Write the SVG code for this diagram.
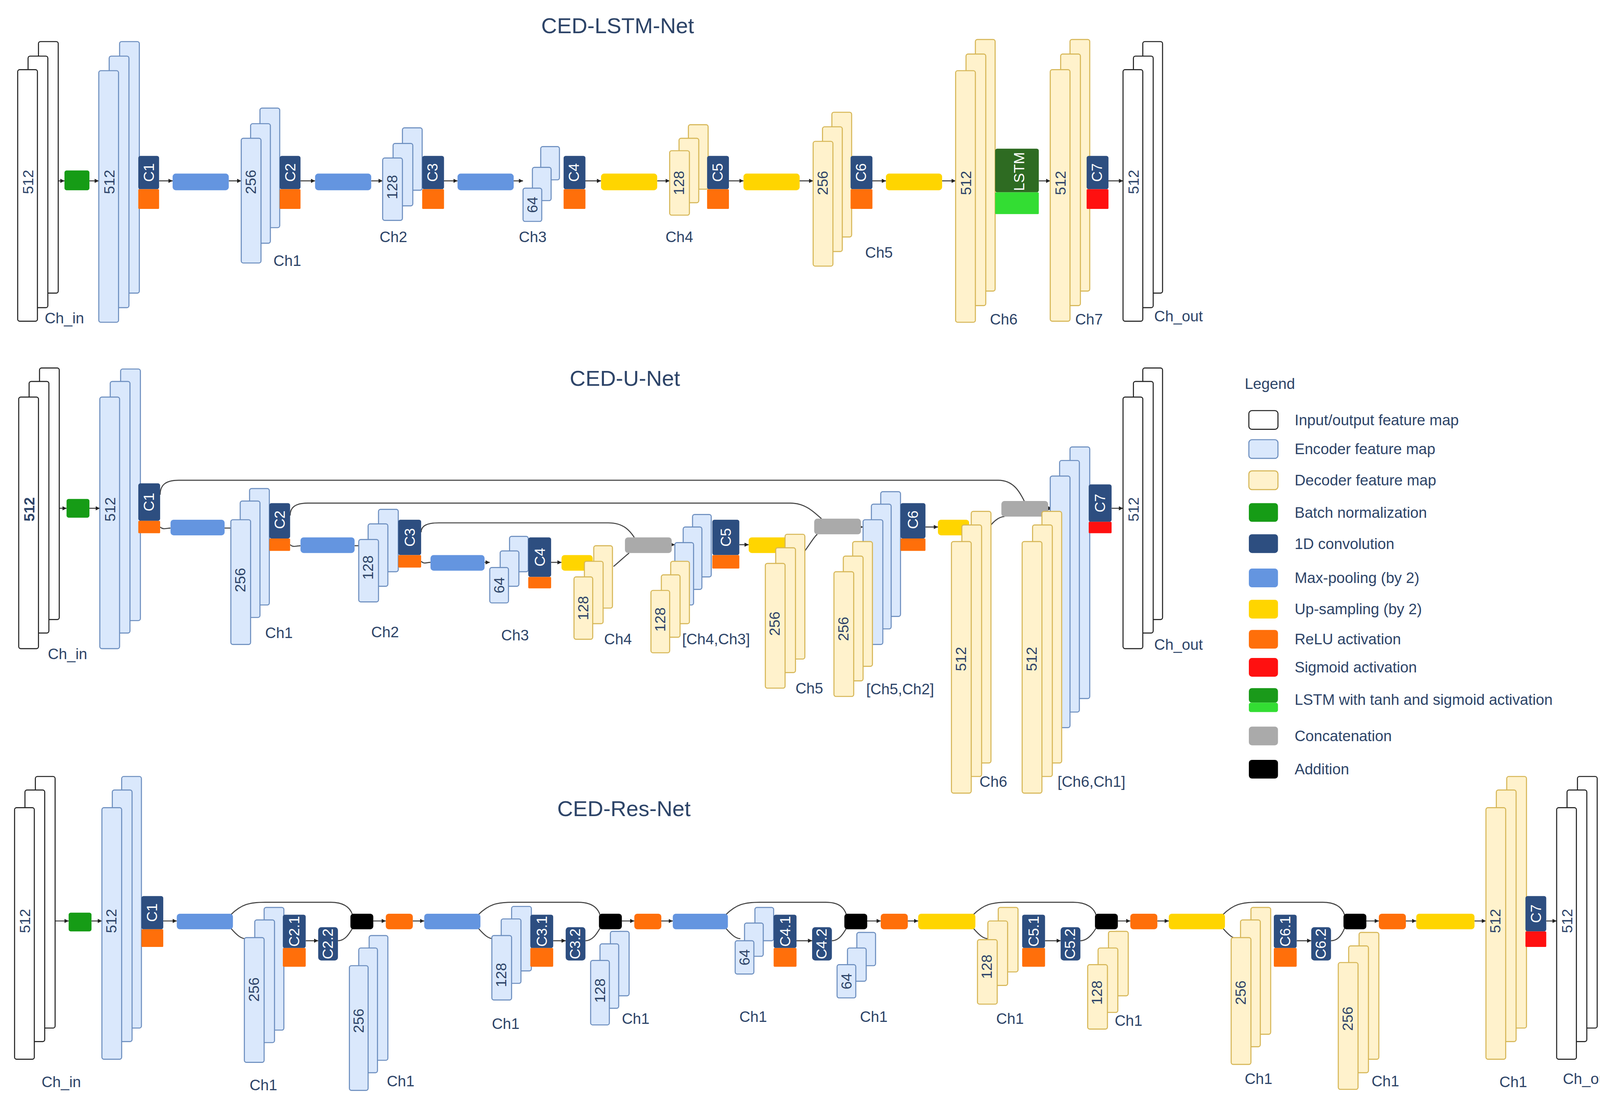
<svg xmlns="http://www.w3.org/2000/svg" width="4174" height="2817" viewBox="0 0 4174 2817">
<defs>
<style>
.io{fill:#fff;stroke:#222;stroke-width:1}
.enc{fill:#dae8fc;stroke:#6c8ebf;stroke-width:1}
.dec{fill:#fff2cc;stroke:#d6b656;stroke-width:1}
.cv{fill:#2d4e80}
.re{fill:#ff6f0a}
.sg{fill:#ff1010}
.mp{fill:#6495e0}
.up{fill:#ffd500}
.bn{fill:#169c16}
.cc{fill:#aaaaaa}
.ad{fill:#000}
.ln{fill:none;stroke:#444;stroke-width:1}
.t{font-family:"Liberation Sans",Arial,sans-serif;font-size:14.5px;fill:#2d4468}
.n{font-family:"Liberation Sans",Arial,sans-serif;font-size:14px;fill:#2d4468;text-anchor:middle;dominant-baseline:central}
.w{font-family:"Liberation Sans",Arial,sans-serif;font-size:14px;fill:#fff;text-anchor:middle;dominant-baseline:central}
.ti{font-family:"Liberation Sans",Arial,sans-serif;font-size:21px;fill:#2d4468;text-anchor:middle}
.lg{font-family:"Liberation Sans",Arial,sans-serif;font-size:14.5px;fill:#2d4468}
</style>
<marker id="a" viewBox="0 0 6 6" refX="6" refY="3" markerWidth="4" markerHeight="4" orient="auto"><path d="M0,0L6,3L0,6z" fill="#222"/></marker>
</defs>
<rect width="4174" height="2817" fill="#fff"/>
<g transform="scale(2.662)">
<!-- ===== LSTM ===== -->
<text class="ti" x="594" y="32">CED-LSTM-Net</text>
<g id="connectors-lstm">
<g class="ln" marker-end="url(#a)">
<path d="M56,174H62"/><path d="M86,174H95"/><path d="M153,174H166"/><path d="M220,174H232"/><path d="M289,174H303"/><path d="M357,174H368"/><path d="M426,174H440"/><path d="M494,174H503"/><path d="M562,174H578"/><path d="M632,174H644"/><path d="M700,174H715"/><path d="M769,174H782"/><path d="M838,174H852"/><path d="M906,174H919"/><path d="M999,174H1010"/><path d="M1065,174H1080"/>
</g></g>
<g id="l-chin"><rect class="io" x="37" y="40" width="19" height="242" rx="2"/><rect class="io" x="27" y="54" width="19" height="242" rx="2"/><rect class="io" x="17" y="67" width="19" height="242" rx="2"/><text class="n" transform="translate(27,175) rotate(-90)">512</text><text class="t" x="43" y="311">Ch_in</text></g>
<g id="l-bn"><rect class="bn" x="62" y="164" width="24" height="19" rx="2"/></g>
<g id="l-enc"><rect class="enc" x="115" y="40" width="19" height="242" rx="2"/><rect class="enc" x="105" y="54" width="19" height="242" rx="2"/><rect class="enc" x="95" y="68" width="19" height="242" rx="2"/><text class="n" transform="translate(105,175) rotate(-90)">512</text></g>
<g id="l-c1"><rect class="cv" x="133" y="150" width="20" height="32" rx="2"/><rect class="re" x="133" y="182" width="20" height="19" rx="1"/><text class="w" transform="translate(143,166) rotate(-90)">C1</text></g>
<rect id="l-mp1" class="mp" x="166" y="167" width="54" height="16" rx="3"/>
<g id="l-ch1"><rect class="enc" x="250" y="104" width="19" height="115" rx="2"/><rect class="enc" x="241" y="119" width="19" height="115" rx="2"/><rect class="enc" x="232" y="133" width="19" height="120" rx="2"/><text class="n" transform="translate(241,175) rotate(-90)">256</text><text class="t" x="263" y="256">Ch1</text></g>
<g id="l-c2"><rect class="cv" x="269" y="150" width="20" height="32" rx="2"/><rect class="re" x="269" y="182" width="20" height="19" rx="1"/><text class="w" transform="translate(279,166) rotate(-90)">C2</text></g>
<rect id="l-mp2" class="mp" x="303" y="167" width="54" height="16" rx="3"/>
<g id="l-ch2"><rect class="enc" x="387" y="123" width="19" height="60" rx="2"/><rect class="enc" x="378" y="138" width="19" height="60" rx="2"/><rect class="enc" x="368" y="152" width="19" height="60" rx="2"/><text class="n" transform="translate(377,180) rotate(-90)">128</text><text class="t" x="365" y="233">Ch2</text></g>
<g id="l-c3"><rect class="cv" x="406" y="150" width="21" height="32" rx="2"/><rect class="re" x="406" y="182" width="21" height="19" rx="1"/><text class="w" transform="translate(416,166) rotate(-90)">C3</text></g>
<rect id="l-mp3" class="mp" x="440" y="167" width="54" height="16" rx="3"/>
<g id="l-ch3"><rect class="enc" x="520" y="141" width="18" height="32" rx="2"/><rect class="enc" x="512" y="161" width="18" height="32" rx="2"/><rect class="enc" x="503" y="181" width="18" height="32" rx="2"/><text class="n" transform="translate(512,197) rotate(-90)">64</text><text class="t" x="499" y="233">Ch3</text></g>
<g id="l-c4"><rect class="cv" x="542" y="150" width="21" height="32" rx="2"/><rect class="re" x="542" y="182" width="21" height="19" rx="1"/><text class="w" transform="translate(552,166) rotate(-90)">C4</text></g>
<rect id="l-up1" class="up" x="578" y="167" width="54" height="16" rx="3"/>
<g id="l-ch4"><rect class="dec" x="662" y="120" width="19" height="62" rx="2"/><rect class="dec" x="653" y="133" width="19" height="62" rx="2"/><rect class="dec" x="644" y="145" width="19" height="62" rx="2"/><text class="n" transform="translate(653,176) rotate(-90)">128</text><text class="t" x="640" y="233">Ch4</text></g>
<g id="l-c5"><rect class="cv" x="680" y="150" width="21" height="32" rx="2"/><rect class="re" x="680" y="182" width="21" height="19" rx="1"/><text class="w" transform="translate(690,166) rotate(-90)">C5</text></g>
<rect id="l-up2" class="up" x="715" y="167" width="54" height="16" rx="3"/>
<g id="l-ch5"><rect class="dec" x="800" y="108" width="19" height="120" rx="2"/><rect class="dec" x="791" y="122" width="19" height="120" rx="2"/><rect class="dec" x="782" y="136" width="19" height="120" rx="2"/><text class="n" transform="translate(791,176) rotate(-90)">256</text><text class="t" x="832" y="248">Ch5</text></g>
<g id="l-c6"><rect class="cv" x="818" y="150" width="21" height="32" rx="2"/><rect class="re" x="818" y="182" width="21" height="19" rx="1"/><text class="w" transform="translate(828,166) rotate(-90)">C6</text></g>
<rect id="l-up3" class="up" x="852" y="167" width="54" height="16" rx="3"/>
<g id="l-ch6"><rect class="dec" x="938" y="38" width="19" height="242" rx="2"/><rect class="dec" x="929" y="52" width="19" height="242" rx="2"/><rect class="dec" x="919" y="68" width="19" height="242" rx="2"/><text class="n" transform="translate(929,176) rotate(-90)">512</text><text class="t" x="952" y="312">Ch6</text></g>
<g id="l-lstm"><rect x="957" y="143" width="42" height="42" rx="2" fill="#2e6b22"/><rect x="957" y="185" width="42" height="21" rx="1" fill="#33dd33"/><text class="w" transform="translate(980,165) rotate(-90)">LSTM</text></g>
<g id="l-ch7"><rect class="dec" x="1029" y="38" width="19" height="242" rx="2"/><rect class="dec" x="1020" y="52" width="19" height="242" rx="2"/><rect class="dec" x="1010" y="67" width="19" height="242" rx="2"/><text class="n" transform="translate(1020,176) rotate(-90)">512</text><text class="t" x="1034" y="312">Ch7</text></g>
<g id="l-c7"><rect class="cv" x="1045" y="150" width="21" height="32" rx="2"/><rect class="sg" x="1045" y="182" width="21" height="19" rx="1"/><text class="w" transform="translate(1055,166) rotate(-90)">C7</text></g>
<g id="l-chout"><rect class="io" x="1099" y="40" width="19" height="242" rx="2"/><rect class="io" x="1090" y="54" width="19" height="242" rx="2"/><rect class="io" x="1080" y="67" width="19" height="242" rx="2"/><text class="n" transform="translate(1090,175) rotate(-90)">512</text><text class="t" x="1110" y="309">Ch_out</text></g>

<!-- ===== U-Net ===== -->
<text class="ti" x="601" y="371">CED-U-Net</text>
<g id="connectors-unet">
<g class="ln">
<path d="M154,476C154,466 160,462 172,462L960,462C975,462 981,474 985,482"/>
<path d="M279,496C279,488 284,484 296,484L760,484C775,484 783,493 790,499"/>
<path d="M405,512C405,506 410,503 422,503L585,503C600,503 606,511 610,517"/>
<path d="M154,507C157,510 160,508 164,508"/><path d="M279,524C282,527 285,525 289,525"/><path d="M405,540C408,543 410,541 414,541"/>
<path d="M216,508H222"/><path d="M341,525H345"/>
<path d="M590,545C596,540 600,536 605,532"/><path d="M774,530C780,522 783,516 786,514"/><path d="M953,505C957,500 962,497 966,497"/>
</g>
<g class="ln" marker-end="url(#a)">
<path d="M56,489H64"/><path d="M86,489H96"/><path d="M466,541H471"/><path d="M530,541H540"/><path d="M646,524H649"/><path d="M711,524H720"/><path d="M828,507H830"/><path d="M890,507H902"/><path d="M1008,489H1012"/><path d="M1069,489H1080"/>
</g></g>
<g id="u-chin"><rect class="io" x="38" y="354" width="19" height="242" rx="2"/><rect class="io" x="28" y="367" width="19" height="242" rx="2"/><rect class="io" x="18" y="382" width="19" height="242" rx="2"/><text class="n" transform="translate(28,490) rotate(-90)" font-weight="bold" fill="#111">512</text><text class="t" x="46" y="634">Ch_in</text></g>
<g id="u-bn"><rect class="bn" x="64" y="480" width="22" height="18" rx="2"/></g>
<g id="u-enc"><rect class="enc" x="116" y="355" width="19" height="242" rx="2"/><rect class="enc" x="106" y="367" width="19" height="242" rx="2"/><rect class="enc" x="96" y="382" width="19" height="242" rx="2"/><text class="n" transform="translate(106,490) rotate(-90)">512</text></g>
<g id="u-c1"><rect class="cv" x="133" y="465" width="21" height="36" rx="2"/><rect class="re" x="133" y="501" width="21" height="12" rx="1"/><text class="w" transform="translate(143,483) rotate(-90)">C1</text></g>
<rect id="u-mp1" class="mp" x="164" y="500" width="52" height="15" rx="3"/>
<g id="u-ch1"><rect class="enc" x="240" y="470" width="19" height="112" rx="2"/><rect class="enc" x="231" y="482" width="19" height="112" rx="2"/><rect class="enc" x="222" y="500" width="19" height="120" rx="2"/><text class="n" transform="translate(231,558) rotate(-90)">256</text><text class="t" x="255" y="614">Ch1</text></g>
<g id="u-c2"><rect class="cv" x="259" y="484" width="20" height="34" rx="2"/><rect class="re" x="259" y="518" width="20" height="12" rx="1"/><text class="w" transform="translate(269,500) rotate(-90)">C2</text></g>
<rect id="u-mp2" class="mp" x="289" y="517" width="52" height="15" rx="3"/>
<g id="u-ch2"><rect class="enc" x="364" y="490" width="19" height="60" rx="2"/><rect class="enc" x="354" y="504" width="19" height="60" rx="2"/><rect class="enc" x="345" y="519" width="19" height="60" rx="2"/><text class="n" transform="translate(354,546) rotate(-90)">128</text><text class="t" x="357" y="613">Ch2</text></g>
<g id="u-c3"><rect class="cv" x="383" y="500" width="22" height="34" rx="2"/><rect class="re" x="383" y="534" width="22" height="12" rx="1"/><text class="w" transform="translate(394,517) rotate(-90)">C3</text></g>
<rect id="u-mp3" class="mp" x="414" y="534" width="52" height="15" rx="3"/>
<g id="u-ch3"><rect class="enc" x="490" y="516" width="18" height="34" rx="2"/><rect class="enc" x="481" y="530" width="18" height="34" rx="2"/><rect class="enc" x="471" y="546" width="18" height="34" rx="2"/><text class="n" transform="translate(480,563) rotate(-90)">64</text><text class="t" x="482" y="616">Ch3</text></g>
<g id="u-c4"><rect class="cv" x="508" y="517" width="22" height="38" rx="2"/><rect class="re" x="508" y="555" width="22" height="11" rx="1"/><text class="w" transform="translate(519,536) rotate(-90)">C4</text></g>
<rect id="u-up1" class="up" x="540" y="534" width="30" height="15" rx="3"/>
<g id="u-ch4"><rect class="dec" x="571" y="525" width="18" height="60" rx="2"/><rect class="dec" x="562" y="540" width="18" height="60" rx="2"/><rect class="dec" x="552" y="555" width="18" height="60" rx="2"/><text class="n" transform="translate(561,585) rotate(-90)">128</text><text class="t" x="581" y="620">Ch4</text></g>
<rect id="u-cc1" class="cc" x="601" y="517" width="45" height="15" rx="3"/>
<g id="u-ch43"><rect class="enc" x="666" y="495" width="18" height="60" rx="2"/><rect class="enc" x="657" y="507" width="18" height="60" rx="2"/><rect class="enc" x="649" y="522" width="18" height="60" rx="2"/><rect class="dec" x="645" y="540" width="18" height="60" rx="2"/><rect class="dec" x="636" y="553" width="18" height="60" rx="2"/><rect class="dec" x="626" y="568" width="18" height="60" rx="2"/><text class="n" transform="translate(635,596) rotate(-90)">128</text><text class="t" x="656" y="620">[Ch4,Ch3]</text></g>
<g id="u-c5"><rect class="cv" x="685" y="500" width="26" height="34" rx="2"/><rect class="re" x="685" y="534" width="26" height="13" rx="1"/><text class="w" transform="translate(698,517) rotate(-90)">C5</text></g>
<rect id="u-up2" class="up" x="720" y="517" width="38" height="15" rx="3"/>
<g id="u-ch5"><rect class="dec" x="755" y="514" width="19" height="120" rx="2"/><rect class="dec" x="746" y="527" width="19" height="120" rx="2"/><rect class="dec" x="736" y="542" width="19" height="120" rx="2"/><text class="n" transform="translate(745,600) rotate(-90)">256</text><text class="t" x="765" y="667">Ch5</text></g>
<rect id="u-cc2" class="cc" x="783" y="499" width="45" height="15" rx="3"/>
<g id="u-ch52"><rect class="enc" x="847" y="473" width="19" height="120" rx="2"/><rect class="enc" x="838" y="485" width="19" height="120" rx="2"/><rect class="enc" x="830" y="500" width="19" height="120" rx="2"/><rect class="dec" x="820" y="521" width="19" height="120" rx="2"/><rect class="dec" x="811" y="535" width="19" height="120" rx="2"/><rect class="dec" x="802" y="550" width="19" height="120" rx="2"/><text class="n" transform="translate(811,605) rotate(-90)">256</text><text class="t" x="833" y="668">[Ch5,Ch2]</text></g>
<g id="u-c6"><rect class="cv" x="866" y="484" width="24" height="34" rx="2"/><rect class="re" x="866" y="518" width="24" height="12" rx="1"/><text class="w" transform="translate(878,500) rotate(-90)">C6</text></g>
<rect id="u-up3" class="up" x="902" y="500" width="30" height="15" rx="3"/>
<g id="u-ch6"><rect class="dec" x="934" y="492" width="19" height="242" rx="2"/><rect class="dec" x="925" y="505" width="19" height="242" rx="2"/><rect class="dec" x="915" y="521" width="19" height="242" rx="2"/><text class="n" transform="translate(924,634) rotate(-90)">512</text><text class="t" x="942" y="757">Ch6</text></g>
<rect id="u-cc3" class="cc" x="963" y="482" width="45" height="15" rx="3"/>
<g id="u-ch61"><rect class="enc" x="1029" y="430" width="19" height="242" rx="2"/><rect class="enc" x="1019" y="443" width="19" height="242" rx="2"/><rect class="enc" x="1010" y="458" width="19" height="242" rx="2"/><rect class="dec" x="1002" y="492" width="19" height="242" rx="2"/><rect class="dec" x="993" y="505" width="19" height="242" rx="2"/><rect class="dec" x="983" y="521" width="19" height="242" rx="2"/><text class="n" transform="translate(992,634) rotate(-90)">512</text><text class="t" x="1017" y="757">[Ch6,Ch1]</text></g>
<g id="u-c7"><rect class="cv" x="1047" y="466" width="22" height="36" rx="2"/><rect class="sg" x="1047" y="502" width="22" height="11" rx="1"/><text class="w" transform="translate(1058,484) rotate(-90)">C7</text></g>
<g id="u-chout"><rect class="io" x="1099" y="354" width="19" height="242" rx="2"/><rect class="io" x="1090" y="367" width="19" height="242" rx="2"/><rect class="io" x="1080" y="382" width="19" height="242" rx="2"/><text class="n" transform="translate(1090,490) rotate(-90)">512</text><text class="t" x="1110" y="625">Ch_out</text></g>

<!-- ===== Legend ===== -->
<g id="legend">
<text x="1197" y="374" class="lg" font-size="19">Legend</text>
<rect class="io" x="1201" y="395" width="28" height="18" rx="3"/><text class="lg" x="1245" y="409">Input/output feature map</text>
<rect class="enc" x="1201" y="423" width="28" height="18" rx="3"/><text class="lg" x="1245" y="437">Encoder feature map</text>
<rect class="dec" x="1201" y="453" width="28" height="18" rx="3"/><text class="lg" x="1245" y="467">Decoder feature map</text>
<rect class="bn" x="1201" y="484" width="28" height="18" rx="3"/><text class="lg" x="1245" y="498">Batch normalization</text>
<rect class="cv" x="1201" y="514" width="28" height="18" rx="3"/><text class="lg" x="1245" y="528">1D convolution</text>
<rect class="mp" x="1201" y="547" width="28" height="18" rx="3"/><text class="lg" x="1245" y="561">Max-pooling (by 2)</text>
<rect class="up" x="1201" y="577" width="28" height="18" rx="3"/><text class="lg" x="1245" y="591">Up-sampling (by 2)</text>
<rect class="re" x="1201" y="606" width="28" height="18" rx="3"/><text class="lg" x="1245" y="620">ReLU activation</text>
<rect class="sg" x="1201" y="633" width="28" height="18" rx="3"/><text class="lg" x="1245" y="647">Sigmoid activation</text>
<rect x="1201" y="662" width="28" height="14" rx="3" fill="#1a9a1a"/><rect x="1201" y="676" width="28" height="9" rx="2" fill="#33dd33"/><text class="lg" x="1245" y="678">LSTM with tanh and sigmoid activation</text>
<rect class="cc" x="1201" y="699" width="28" height="18" rx="3"/><text class="lg" x="1245" y="713">Concatenation</text>
<rect class="ad" x="1201" y="731" width="28" height="18" rx="3"/><text class="lg" x="1245" y="745">Addition</text>
</g>

<!-- ===== Res-Net ===== -->
<text class="ti" x="600" y="785">CED-Res-Net</text>
<g id="connectors-res">
<g class="ln" marker-end="url(#a)">
<path d="M53,886H66"/><path d="M88,886H98"/><path d="M157,886H170"/><path d="M359,886H371"/><path d="M397,886H408"/><path d="M598,886H610"/><path d="M636,886H647"/><path d="M834,886H847"/><path d="M873,886H883"/><path d="M1075,886H1087"/><path d="M1113,886H1124"/><path d="M1314,886H1326"/><path d="M1352,886H1362"/><path d="M1418,886H1429"/><path d="M1487,886H1497"/>
<path d="M294,905H306"/><path d="M532,905H544"/><path d="M766,905H781"/><path d="M1005,905H1020"/><path d="M1247,905H1261"/>
</g>
<g class="ln">
<path d="M222,880C232,870 240,868 255,868H318C332,868 337,874 339,880"/><path d="M222,893C228,900 232,903 236,903"/><path d="M325,905C332,905 336,898 339,893"/>
<path d="M460,880C470,870 478,868 493,868H556C570,868 575,874 577,880"/><path d="M460,893C466,900 470,903 474,903"/><path d="M563,905C570,905 574,898 577,893"/>
<path d="M698,880C708,870 716,868 731,868H794C808,868 812,874 814,880"/><path d="M698,893C704,900 708,903 712,903"/><path d="M800,905C807,905 811,898 814,893"/>
<path d="M936,880C946,870 954,868 969,868H1032C1046,868 1052,874 1054,880"/><path d="M936,893C942,900 946,903 950,903"/><path d="M1039,905C1046,905 1051,898 1054,893"/>
<path d="M1176,880C1186,870 1194,868 1209,868H1272C1286,868 1291,874 1293,880"/><path d="M1176,893C1182,900 1186,903 1190,903"/><path d="M1280,905C1287,905 1291,898 1293,893"/>
</g></g>
<g id="r-chin"><rect class="io" x="34" y="747" width="19" height="242" rx="2"/><rect class="io" x="24" y="760" width="19" height="242" rx="2"/><rect class="io" x="14" y="777" width="19" height="242" rx="2"/><text class="n" transform="translate(24,886) rotate(-90)">512</text><text class="t" x="40" y="1046">Ch_in</text></g>
<g id="r-bn"><rect class="bn" x="66" y="878" width="22" height="18" rx="2"/></g>
<g id="r-enc"><rect class="enc" x="117" y="747" width="19" height="242" rx="2"/><rect class="enc" x="108" y="760" width="19" height="242" rx="2"/><rect class="enc" x="98" y="777" width="19" height="242" rx="2"/><text class="n" transform="translate(107,886) rotate(-90)">512</text></g>
<g id="r-c1"><rect class="cv" x="136" y="862" width="21" height="32" rx="2"/><rect class="re" x="136" y="894" width="21" height="17" rx="1"/><text class="w" transform="translate(146,878) rotate(-90)">C1</text></g>
<!-- block 1 -->
<rect id="r-mp1" class="mp" x="170" y="879" width="54" height="15" rx="3"/>
<g id="r-s1a"><rect class="enc" x="254" y="873" width="19" height="118" rx="2"/><rect class="enc" x="245" y="885" width="19" height="118" rx="2"/><rect class="enc" x="235" y="902" width="19" height="120" rx="2"/><text class="n" transform="translate(244,952) rotate(-90)">256</text><text class="t" x="240" y="1049">Ch1</text></g>
<g id="r-c21"><rect class="cv" x="272" y="880" width="22" height="32" rx="2"/><rect class="re" x="272" y="912" width="22" height="18" rx="1"/><text class="w" transform="translate(283,896) rotate(-90)" font-size="13">C2.1</text></g>
<g id="r-c22"><rect class="cv" x="306" y="892" width="19" height="32" rx="3"/><text class="w" transform="translate(315,908) rotate(-90)" font-size="12.5">C2.2</text></g>
<rect id="r-ad1" class="ad" x="337" y="879" width="22" height="15" rx="3"/>
<rect id="r-re1" class="re" x="371" y="879" width="26" height="15" rx="3"/>
<g id="r-s1b"><rect class="enc" x="355" y="900" width="18" height="120" rx="2"/><rect class="enc" x="345" y="912" width="18" height="120" rx="2"/><rect class="enc" x="336" y="929" width="18" height="120" rx="2"/><text class="n" transform="translate(345,982) rotate(-90)">256</text><text class="t" x="372" y="1045">Ch1</text></g>
<!-- block 2 -->
<rect id="r-mp2" class="mp" x="408" y="879" width="54" height="15" rx="3"/>
<g id="r-s2a"><rect class="enc" x="492" y="872" width="19" height="62" rx="2"/><rect class="enc" x="482" y="884" width="19" height="62" rx="2"/><rect class="enc" x="473" y="900" width="19" height="62" rx="2"/><text class="n" transform="translate(482,938) rotate(-90)">128</text><text class="t" x="473" y="990">Ch1</text></g>
<g id="r-c31"><rect class="cv" x="510" y="880" width="22" height="32" rx="2"/><rect class="re" x="510" y="912" width="22" height="18" rx="1"/><text class="w" transform="translate(521,896) rotate(-90)" font-size="13">C3.1</text></g>
<g id="r-c32"><rect class="cv" x="544" y="892" width="19" height="32" rx="3"/><text class="w" transform="translate(553,908) rotate(-90)" font-size="12.5">C3.2</text></g>
<rect id="r-ad2" class="ad" x="576" y="879" width="22" height="15" rx="3"/>
<rect id="r-re2" class="re" x="610" y="879" width="26" height="15" rx="3"/>
<g id="r-s2b"><rect class="enc" x="587" y="896" width="18" height="62" rx="2"/><rect class="enc" x="577" y="908" width="18" height="62" rx="2"/><rect class="enc" x="568" y="924" width="18" height="62" rx="2"/><text class="n" transform="translate(577,953) rotate(-90)">128</text><text class="t" x="598" y="985">Ch1</text></g>
<!-- block 3 -->
<rect id="r-mp3" class="mp" x="647" y="879" width="53" height="15" rx="3"/>
<g id="r-s3a"><rect class="enc" x="726" y="873" width="18" height="32" rx="2"/><rect class="enc" x="716" y="888" width="18" height="32" rx="2"/><rect class="enc" x="707" y="905" width="18" height="32" rx="2"/><text class="n" transform="translate(716,921) rotate(-90)">64</text><text class="t" x="711" y="983">Ch1</text></g>
<g id="r-c41"><rect class="cv" x="744" y="880" width="22" height="32" rx="2"/><rect class="re" x="744" y="912" width="22" height="18" rx="1"/><text class="w" transform="translate(755,896) rotate(-90)" font-size="13">C4.1</text></g>
<g id="r-c42"><rect class="cv" x="781" y="892" width="19" height="32" rx="3"/><text class="w" transform="translate(790,908) rotate(-90)" font-size="12.5">C4.2</text></g>
<rect id="r-ad3" class="ad" x="812" y="879" width="22" height="15" rx="3"/>
<rect id="r-re3" class="re" x="847" y="879" width="26" height="15" rx="3"/>
<g id="r-s3b"><rect class="enc" x="824" y="897" width="18" height="32" rx="2"/><rect class="enc" x="815" y="912" width="18" height="32" rx="2"/><rect class="enc" x="805" y="928" width="18" height="32" rx="2"/><text class="n" transform="translate(814,944) rotate(-90)">64</text><text class="t" x="827" y="983">Ch1</text></g>
<!-- block 4 -->
<rect id="r-up1" class="up" x="883" y="879" width="55" height="15" rx="3"/>
<g id="r-s4a"><rect class="dec" x="960" y="873" width="19" height="62" rx="2"/><rect class="dec" x="950" y="886" width="19" height="62" rx="2"/><rect class="dec" x="940" y="904" width="19" height="62" rx="2"/><text class="n" transform="translate(949,930) rotate(-90)">128</text><text class="t" x="958" y="985">Ch1</text></g>
<g id="r-c51"><rect class="cv" x="983" y="880" width="22" height="32" rx="2"/><rect class="re" x="983" y="912" width="22" height="18" rx="1"/><text class="w" transform="translate(994,896) rotate(-90)" font-size="13">C5.1</text></g>
<g id="r-c52"><rect class="cv" x="1020" y="892" width="19" height="32" rx="3"/><text class="w" transform="translate(1029,908) rotate(-90)" font-size="12.5">C5.2</text></g>
<rect id="r-ad4" class="ad" x="1053" y="879" width="22" height="15" rx="3"/>
<rect id="r-re4" class="re" x="1087" y="879" width="26" height="15" rx="3"/>
<g id="r-s4b"><rect class="dec" x="1066" y="896" width="19" height="62" rx="2"/><rect class="dec" x="1056" y="912" width="19" height="62" rx="2"/><rect class="dec" x="1046" y="928" width="19" height="62" rx="2"/><text class="n" transform="translate(1055,955) rotate(-90)">128</text><text class="t" x="1072" y="987">Ch1</text></g>
<!-- block 5 -->
<rect id="r-up2" class="up" x="1124" y="879" width="54" height="15" rx="3"/>
<g id="r-s5a"><rect class="dec" x="1203" y="873" width="19" height="122" rx="2"/><rect class="dec" x="1193" y="885" width="19" height="122" rx="2"/><rect class="dec" x="1184" y="902" width="19" height="122" rx="2"/><text class="n" transform="translate(1193,955) rotate(-90)">256</text><text class="t" x="1197" y="1043">Ch1</text></g>
<g id="r-c61"><rect class="cv" x="1225" y="880" width="22" height="32" rx="2"/><rect class="re" x="1225" y="912" width="22" height="18" rx="1"/><text class="w" transform="translate(1236,896) rotate(-90)" font-size="13">C6.1</text></g>
<g id="r-c62"><rect class="cv" x="1261" y="892" width="19" height="32" rx="3"/><text class="w" transform="translate(1270,908) rotate(-90)" font-size="12.5">C6.2</text></g>
<rect id="r-ad5" class="ad" x="1292" y="879" width="22" height="15" rx="3"/>
<rect id="r-re5" class="re" x="1326" y="879" width="26" height="15" rx="3"/>
<g id="r-s5b"><rect class="dec" x="1307" y="897" width="19" height="122" rx="2"/><rect class="dec" x="1297" y="910" width="19" height="122" rx="2"/><rect class="dec" x="1287" y="926" width="19" height="122" rx="2"/><text class="n" transform="translate(1296,980) rotate(-90)">256</text><text class="t" x="1319" y="1045">Ch1</text></g>
<rect id="r-up3" class="up" x="1362" y="879" width="56" height="15" rx="3"/>
<g id="r-dec"><rect class="dec" x="1449" y="747" width="19" height="242" rx="2"/><rect class="dec" x="1439" y="760" width="19" height="242" rx="2"/><rect class="dec" x="1429" y="777" width="19" height="242" rx="2"/><text class="n" transform="translate(1438,886) rotate(-90)">512</text><text class="t" x="1442" y="1046">Ch1</text></g>
<g id="r-c7"><rect class="cv" x="1467" y="862" width="20" height="34" rx="2"/><rect class="sg" x="1467" y="896" width="20" height="15" rx="1"/><text class="w" transform="translate(1477,879) rotate(-90)">C7</text></g>
<g id="r-chout"><rect class="io" x="1517" y="747" width="19" height="242" rx="2"/><rect class="io" x="1507" y="760" width="19" height="242" rx="2"/><rect class="io" x="1497" y="777" width="19" height="242" rx="2"/><text class="n" transform="translate(1507,886) rotate(-90)">512</text><text class="t" x="1503" y="1043" font-size="14">Ch_out</text></g>
</g>
</svg>
